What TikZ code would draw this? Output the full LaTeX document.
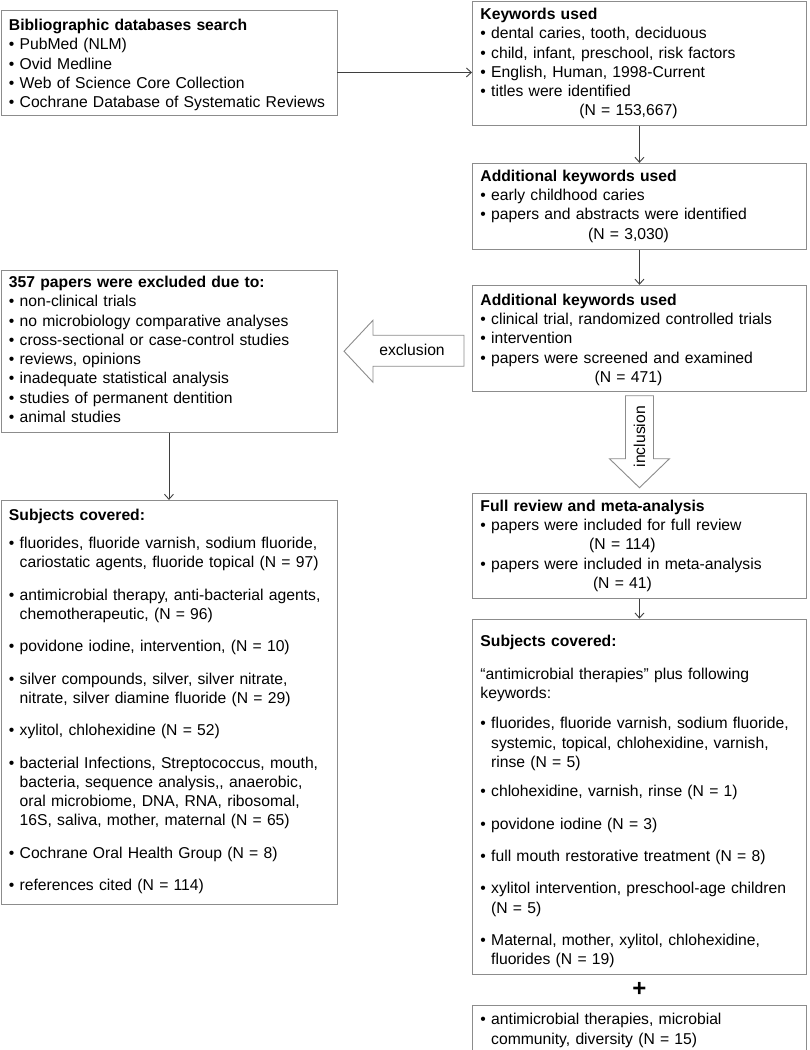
\documentclass[tikz,border=0pt]{standalone}
\usepackage{fontspec}
\setmainfont{Liberation Sans}
\usetikzlibrary{arrows.meta,positioning,calc}

\definecolor{boxgray}{HTML}{8C8C8C}
\definecolor{linegray}{HTML}{3F3F3F}

\newcommand{\bl}{\textbullet\ }
\newcommand{\ind}{\hphantom{\textbullet\ }}
\newcommand{\gap}{\\[13pt]}
\newcommand{\ctr}[2][296pt]{\makebox[#1]{#2}}

\tikzset{
  box/.style={draw=boxgray, line width=0.9pt, anchor=north west, inner xsep=8pt,
    inner ysep=0pt, align=left, font=\fontsize{15.7}{19.3}\selectfont},
  lbox/.style={box, text width=320pt},
  rbox/.style={box, text width=318pt},
  link/.style={draw=linegray, line width=0.9pt, -{Straight Barb[length=5pt,width=9pt]}},
  fatarrow/.style={draw=boxgray, line width=0.9pt, fill=white},
  lbl/.style={font=\fontsize{15.7}{19.3}\selectfont, inner sep=0pt},
}

\begin{document}
\begin{tikzpicture}[x=1pt,y=-1pt]
\useasboundingbox (0,0) rectangle (810,1050);

% left column
\node[lbox, text height=20pt, text depth=85pt] (search) at (0.5,10)
  {\textbf{Bibliographic databases search}\\
   \bl PubMed (NLM)\\
   \bl Ovid Medline\\
   \bl Web of Science Core Collection\\
   \bl Cochrane Database of Systematic Reviews};

\node[lbox, text height=17pt, text depth=145pt] (excl) at (0.5,270)
  {\textbf{357 papers were excluded due to:}\\
   \bl non-clinical trials\\
   \bl no microbiology comparative analyses\\
   \bl cross-sectional or case-control studies\\
   \bl reviews, opinions\\
   \bl inadequate statistical analysis\\
   \bl studies of permanent dentition\\
   \bl animal studies};

\node[lbox, text height=20pt, text depth=384pt, below=67pt of excl.south west, anchor=north west] (subjl)
  {\textbf{Subjects covered:}\\[9pt]
   \bl fluorides, fluoride varnish, sodium fluoride,\\
   \ind cariostatic agents, fluoride topical (N = 97)\gap
   \bl antimicrobial therapy, anti-bacterial agents,\\
   \ind chemotherapeutic, (N = 96)\gap
   \bl povidone iodine, intervention, (N = 10)\gap
   \bl silver compounds, silver, silver nitrate,\\
   \ind nitrate, silver diamine fluoride (N = 29)\gap
   \bl xylitol, chlohexidine (N = 52)\gap
   \bl bacterial Infections, Streptococcus, mouth,\\
   \ind bacteria, sequence analysis,{}, anaerobic,\\
   \ind oral microbiome, DNA, RNA, ribosomal,\\
   \ind 16S, saliva, mother, maternal (N = 65)\gap
   \bl Cochrane Oral Health Group (N = 8)\gap
   \bl references cited (N = 114)};

% right column
\node[rbox, text height=18pt, text depth=106pt] (keys) at (472,1)
  {\textbf{Keywords used}\\
   \bl dental caries, tooth, deciduous\\
   \bl child, infant, preschool, risk factors\\
   \bl English, Human, 1998-Current\\
   \bl titles were identified\\
   \ctr{(N = 153,667)}};

\node[rbox, text height=18pt, text depth=68pt, below=37pt of keys.south west, anchor=north west] (addkw)
  {\textbf{Additional keywords used}\\
   \bl early childhood caries\\
   \bl papers and abstracts were identified\\
   \ctr{(N = 3,030)}};

\node[rbox, text height=20pt, text depth=86pt, below=35pt of addkw.south west, anchor=north west] (screen)
  {\textbf{Additional keywords used}\\
   \bl clinical trial, randomized controlled trials\\
   \bl intervention\\
   \bl papers were screened and examined\\
   \ctr{(N = 471)}};

\node[rbox, text height=18pt, text depth=87pt, below=101pt of screen.south west, anchor=north west] (full)
  {\textbf{Full review and meta-analysis}\\
   \bl papers were included for full review\\
   \ctr[284pt]{(N = 114)}\\
   \bl papers were included in meta-analysis\\
   \ctr[284pt]{(N = 41)}};

\node[rbox, text height=27pt, text depth=328pt, below=20pt of full.south west, anchor=north west] (subjr)
  {\textbf{Subjects covered:}\\[14pt]
   ``antimicrobial therapies'' plus following\\
   keywords:\\[11pt]
   \bl fluorides, fluoride varnish, sodium fluoride,\\
   \ind systemic, topical, chlohexidine, varnish,\\
   \ind rinse (N = 5)\\[10pt]
   \bl chlohexidine, varnish, rinse (N = 1)\gap
   \bl povidone iodine (N = 3)\gap
   \bl full mouth restorative treatment (N = 8)\gap
   \bl xylitol intervention, preschool-age children\\
   \ind (N = 5)\gap
   \bl Maternal, mother, xylitol, chlohexidine,\\
   \ind fluorides (N = 19)};

\node[rbox, text height=20pt, text depth=28pt, below=30pt of subjr.south west, anchor=north west] (extra)
  {\bl antimicrobial therapies, microbial\\
   \ind community, diversity (N = 15)};

\node[font=\fontsize{24}{24}\selectfont\bfseries, inner sep=0pt] (plus)
  at ($(subjr.south)!0.5!(extra.north)$) {+};

% connectors
\coordinate (s1) at ([yshift=-9.5pt]search.east);
\draw[link] (s1) -- (s1 -| keys.west);
\draw[link] (keys.south) -- (addkw.north);
\draw[link] (addkw.south) -- (screen.north);
\draw[link] (full.south) -- (subjr.north);
\draw[link] (excl.south) -- (subjl.north);

% inclusion
\begin{scope}[shift={(screen.south)}]
  \draw[fatarrow] (-14,4) -- (14,4) -- (14,67) -- (30,67) -- (0,96) -- (-30,67) -- (-14,67) -- cycle;
  \node[lbl, rotate=90] (incl) at (0,45) {inclusion};
\end{scope}

% exclusion
\begin{scope}[shift={(screen.west)}]
  \draw[fatarrow] (-8,-3) -- (-99,-3) -- (-99,-18) -- (-128,13) -- (-99,44) -- (-99,28) -- (-8,28) -- cycle;
  \node[lbl] (exlbl) at (-60,12) {exclusion};
\end{scope}
\end{tikzpicture}
\end{document}
